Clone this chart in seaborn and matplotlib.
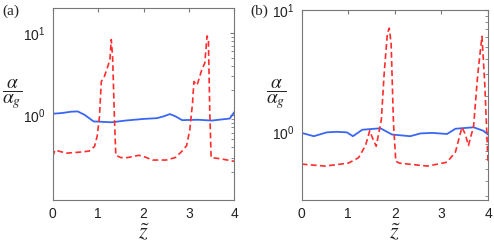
import numpy as np
import pandas as pd
import matplotlib
matplotlib.use("Agg")
import matplotlib.pyplot as plt
import matplotlib.ticker as mticker
import seaborn as sns

# painel (a)
za_blue = [0, 0.2, 0.4, 0.55, 0.7, 0.9, 1.1, 1.3, 1.6, 2.0, 2.3, 2.45, 2.58, 2.7, 2.85, 3.2, 3.5, 3.9, 4.0]
a_blue = [1.03, 1.05, 1.09, 1.1, 1.0, 0.83, 0.82, 0.81, 0.85, 0.89, 0.91, 0.96, 1.02, 0.96, 0.86, 0.87, 0.85, 0.9, 1.08]
za_red = [0, 0.05, 0.3, 0.6, 0.8, 0.92, 0.98, 1.03, 1.07, 1.14, 1.2, 1.26, 1.29, 1.32, 1.36, 1.39,
          1.5, 1.65, 1.9, 2.0, 2.2, 2.5, 2.7, 2.85, 2.95, 3.02, 3.08, 3.11, 3.18, 3.28, 3.35, 3.4, 3.43,
          3.46, 3.49, 3.7, 4.0]
a_red = [0.31, 0.37, 0.34, 0.35, 0.36, 0.41, 0.55, 0.95, 2.55, 2.96, 3.7, 4.7, 8.3, 5.0, 0.9, 0.32,
         0.30, 0.30, 0.32, 0.31, 0.28, 0.28, 0.30, 0.36, 0.42, 0.66, 1.39, 2.55, 2.3, 3.5, 4.3, 9.2, 8.2,
         1.05, 0.30, 0.29, 0.27]

# painel (b)
zb_blue = [0, 0.26, 0.54, 0.75, 0.97, 1.10, 1.30, 1.69, 1.94, 2.33, 2.55, 2.8, 3.12, 3.30, 3.69, 3.9, 4.0]
b_blue = [0.99, 0.93, 1.0, 1.01, 1.0, 0.93, 1.05, 1.08, 0.96, 0.93, 0.98, 0.99, 0.97, 1.07, 1.1, 1.03, 0.96]
zb_red = [0, 0.5, 1.0, 1.22, 1.37, 1.46, 1.53, 1.60, 1.71, 1.77, 1.84, 1.88, 1.92, 1.97, 2.02, 2.1,
          2.7, 3.12, 3.30, 3.44, 3.51, 3.58, 3.69, 3.78, 3.87, 3.93, 4.0]
b_red = [0.55, 0.53, 0.56, 0.62, 0.78, 1.03, 0.88, 0.77, 1.27, 3.0, 6.5, 7.1, 5.3, 1.2, 0.58, 0.56,
         0.53, 0.57, 0.69, 1.1, 0.97, 0.78, 1.12, 3.0, 6.1, 2.5, 0.57]

sns.set_style("white")
plt.rcParams['font.family'] = ['Liberation Sans', 'DejaVu Sans']
plt.rcParams['mathtext.fontset'] = 'stix'

azul = '#3a66f5'
vermelho = '#ff2d2d'
rotulo_y = r'$\dfrac{\alpha}{\alpha_g}$'


def desenhar(ax, zb, vb, zr, vr, ylim, pos):
    ax.set_position(pos)
    sns.lineplot(x=zb, y=vb, ax=ax, color=azul, lw=1.3)
    sns.lineplot(x=zr, y=vr, ax=ax, color=vermelho, lw=1.2, linestyle=(0, (3.5, 2)))
    ax.set_yscale('log')
    ax.set_xlim(0, 4)
    ax.set_ylim(*ylim)
    ax.set_xticks([0, 1, 2, 3, 4])
    ax.set_yticks([1, 10])
    ax.yaxis.set_major_formatter(mticker.LogFormatterSciNotation())
    ax.yaxis.set_minor_locator(mticker.LogLocator(base=10, subs=np.arange(2, 10)))
    ax.yaxis.set_minor_formatter(mticker.NullFormatter())
    ax.tick_params(direction='in', top=True, right=True, which='both', color='#777777',
                   labelsize=10, labelcolor='#222222', pad=5)
    ax.tick_params(which='major', length=3)
    ax.tick_params(which='minor', length=2)
    for s in ax.spines.values():
        s.set_color('#777777')
        s.set_linewidth(0.8)
    ax.set_xlabel(r'$\tilde{z}$', fontsize=16, labelpad=1)
    ax.set_ylabel('')


fig = plt.figure(figsize=(4.94, 2.43), dpi=100)
ax1 = fig.add_axes([0, 0, 1, 1])
ax2 = fig.add_axes([0, 0, 1, 1])

desenhar(ax1, za_blue, a_blue, za_red, a_red, (0.091, 20),
         [0.1067, 0.177, 0.3676, 0.7888])
desenhar(ax2, zb_blue, b_blue, zb_red, b_red, (0.28, 10),
         [0.6107, 0.177, 0.3772, 0.7818])

fig.text(12 / 494, 1 - 94 / 243, rotulo_y, fontsize=14, ha='center', va='center')
fig.text(276 / 494, 1 - 94 / 243, rotulo_y, fontsize=14, ha='center', va='center')

fig.text(0.004, 0.955, '(a)', family='Liberation Serif', fontsize=11, va='center')
fig.text(0.506, 0.955, '(b)', family='Liberation Serif', fontsize=11, va='center')

fig.savefig('out.png', dpi=100)
